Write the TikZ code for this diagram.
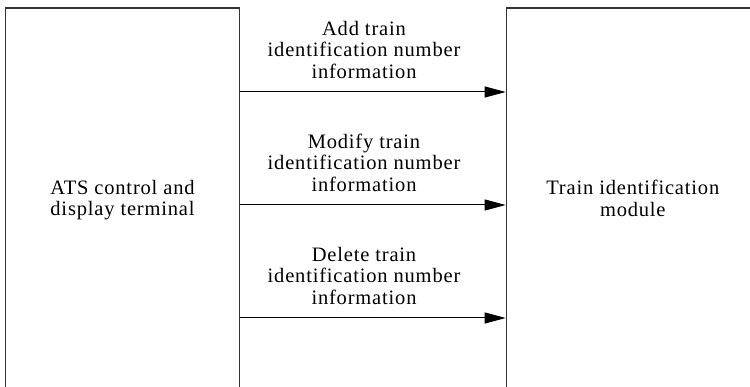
\documentclass[tikz,border=0pt]{standalone}
\usepackage{fontspec}
\setmainfont[LetterSpace=4]{Liberation Serif}
\usetikzlibrary{arrows.meta}
\tikzset{
  box/.style={draw=black!80, line width=1.4pt, minimum width=#1, minimum height=385pt, anchor=north west, inner sep=0pt},
  lbl/.style={align=center, inner sep=0pt, font=\fontsize{20.5}{21.5}\selectfont},
  flow/.style={line width=1pt, -{Triangle[length=21pt, width=11pt]}},
}
\begin{document}
\begin{tikzpicture}[x=1pt,y=-1pt]
\useasboundingbox (0,0) rectangle (750,387);
\clip (0,0) rectangle (750,387);
\node[box=234pt] (ats) at (5,7.5) {};
\node[box=255pt] (tim) at (505.7,7.5) {};
\node[lbl] (atst) at (122.5,200) {ATS control and\\display terminal};
\node[lbl] (timt) at (632.8,198.5) {Train identification\\module};
\coordinate (r1) at (0,92);
\coordinate (r2) at (0,205);
\coordinate (r3) at (0,318);
\draw[flow] (ats.east |- r1) -- (tim.west |- r1);
\draw[flow] (ats.east |- r2) -- (tim.west |- r2);
\draw[flow] (ats.east |- r3) -- (tim.west |- r3);
\node[lbl] (l1) at (364,49.5) {Add train\\identification number\\information};
\node[lbl] (l2) at (364,162.5) {Modify train\\identification number\\information};
\node[lbl] (l3) at (364,275.5) {Delete train\\identification number\\information};
\end{tikzpicture}
\end{document}
